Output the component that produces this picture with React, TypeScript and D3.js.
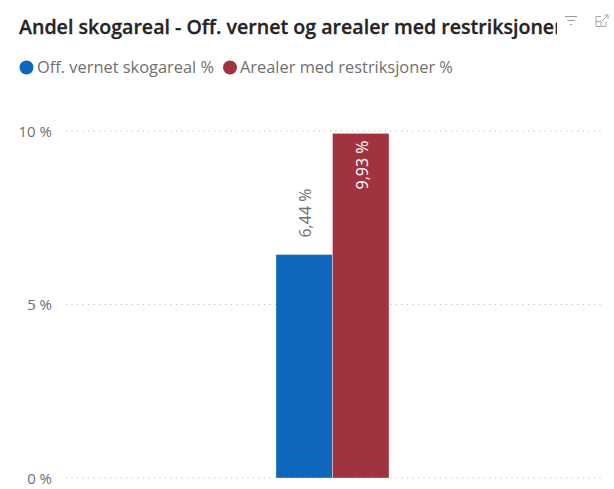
import React from "react";
import * as d3 from "d3";

const title = "Andel skogareal - Off. vernet og arealer med restriksjoner";
const categories = ["Andel"];
const seriesNames = ["Off. vernet skogareal %", "Arealer med restriksjoner %"];
const seriesValues = [6.44, 9.93];
const seriesColors = ["#0f67bd", "#a0333f"];
const valueLabels = ["6,44 %", "9,93 %"];
const tickValues = [0, 5, 10];
const tickLabels = ["0 %", "5 %", "10 %"];

const font = "'Open Sans', sans-serif";

export default function App() {
  const y = d3.scaleLinear().domain([0, 10]).range([478, 131]);
  const x0 = d3.scaleBand().domain(categories).range([60, 605]).paddingInner(0).paddingOuter(1.91);
  const x1 = d3.scaleBand().domain(seriesNames).range([0, x0.bandwidth()]);
  const bx = (name: string) => (x0(categories[0]) as number) + (x1(name) as number);
  return (
    <svg width={614} height={489} style={{ position: "fixed", left: 0, top: 0, background: "#fff" }} fontFamily={font}>
      <defs>
        <clipPath id="titleClip"><rect x={0} y={0} width={557} height={60} /></clipPath>
      </defs>
      <text x={19} y={34} fontSize={19.6} fontWeight={600} fill="#252423" clipPath="url(#titleClip)" stroke="#252423" strokeWidth={0.3}>{title}</text>

      {/* filter icon */}
      <g stroke="#9a9a9a" strokeWidth={1} fill="none">
        <path d="M565 16.5H577M567.5 20.5H574.5M570 24.5H572" />
      </g>
      {/* expand icon */}
      <g stroke="#a8a8a8" strokeWidth={1} fill="none">
        <path d="M601 16.5H596V26.5H606V22" />
        <path d="M596 21.5H601V26.5M602 21L608 15M604 15H608V19" />
      </g>

      {/* legend */}
      <circle cx={26.5} cy={67.5} r={7} fill={seriesColors[0]} />
      <text x={37} y={73} fontSize={16.4} fill="#707070">{seriesNames[0]}</text>
      <circle cx={230} cy={67.5} r={7} fill={seriesColors[1]} />
      <text x={240} y={73} fontSize={16.4} fill="#707070">{seriesNames[1]}</text>

      {/* grid & ticks */}
      {tickValues.map((t, i) => (
        <g key={t}>
          <line x1={66} x2={605} y1={y(t)} y2={y(t)} stroke="#b5b5b5" strokeWidth={1} strokeDasharray="1 4.5" />
          <text x={52} y={y(t) + 5.5} textAnchor="end" fontSize={15} fill="#707070">{tickLabels[i]}</text>
        </g>
      ))}

      {/* bars */}
      {seriesNames.map((name, i) => (
        <rect key={name} x={bx(name)} y={y(seriesValues[i])} width={x1.bandwidth()} height={478 - y(seriesValues[i])} fill={seriesColors[i]} stroke="#fff" strokeOpacity={0.35} strokeWidth={1} />
      ))}

      {/* data labels */}
      <text transform={`translate(${bx(seriesNames[0]) + x1.bandwidth() / 2 + 7},${y(seriesValues[0]) - 17}) rotate(-90)`} fontSize={16} fill="#707070">{valueLabels[0]}</text>
      <text transform={`translate(${bx(seriesNames[1]) + x1.bandwidth() / 2 + 7},${y(seriesValues[1]) + 56}) rotate(-90)`} fontSize={16} fill="#fff">{valueLabels[1]}</text>
    </svg>
  );
}
